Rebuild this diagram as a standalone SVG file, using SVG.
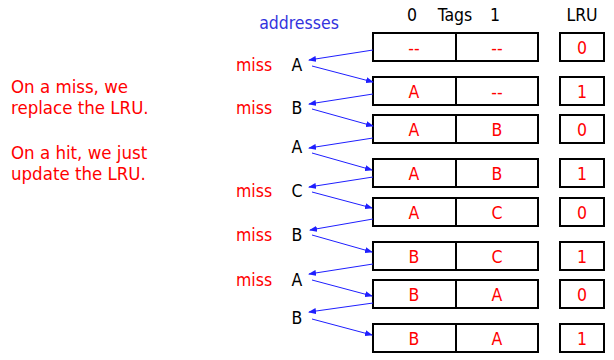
<svg xmlns="http://www.w3.org/2000/svg" width="614" height="360" viewBox="0 0 614 360">
<defs>
<marker id="ah" markerWidth="8" markerHeight="6" refX="7" refY="3" orient="auto" markerUnits="userSpaceOnUse">
<path d="M0,0 L8,3 L0,6 Z" fill="#1f1fff"/>
</marker>
<style>
text{font-family:"DejaVu Sans Condensed","DejaVu Sans",sans-serif;font-size:17.5px}
.r{fill:#ff0000;text-anchor:middle}
.k{fill:#000;text-anchor:middle}
.m{fill:#ff0000}
.note{fill:#ff0000;font-size:18.5px}
.box{fill:#fff;stroke:#000;stroke-width:2}
.c{stroke:#1f1fff;stroke-width:1;fill:none;marker-end:url(#ah)}
</style>
</defs>
<g id="notes">
<text class="note" x="11" y="93">On a miss, we</text>
<text class="note" x="11" y="114">replace the LRU.</text>
<text class="note" x="11" y="159">On a hit, we just</text>
<text class="note" x="11" y="180">update the LRU.</text>
</g>
<g id="headers">
<text x="299" y="29" style="fill:#3333dd;text-anchor:middle">addresses</text>
<text class="k" x="412" y="21">0</text>
<text class="k" x="455" y="21">Tags</text>
<text class="k" x="495" y="21">1</text>
<text class="k" x="582" y="21">LRU</text>
</g>
<g id="addresses">
<text class="m" x="236" y="71">miss</text><text class="k" x="297" y="71">A</text>
<text class="m" x="236" y="114">miss</text><text class="k" x="297" y="114">B</text>
<text class="k" x="297" y="153">A</text>
<text class="m" x="236" y="197">miss</text><text class="k" x="297" y="197">C</text>
<text class="m" x="236" y="241">miss</text><text class="k" x="297" y="241">B</text>
<text class="m" x="236" y="286">miss</text><text class="k" x="297" y="286">A</text>
<text class="k" x="297" y="324">B</text>
</g>
<g id="row1"><rect class="box" x="373" y="33" width="165" height="28"/><line x1="456" y1="33" x2="456" y2="61" stroke="#000" stroke-width="2"/><text class="r" x="414" y="54">--</text><text class="r" x="497" y="54">--</text><rect class="box" x="560" y="33" width="44" height="28"/><text class="r" x="582" y="54">0</text></g>
<g id="row2"><rect class="box" x="373" y="77" width="165" height="28"/><line x1="456" y1="77" x2="456" y2="105" stroke="#000" stroke-width="2"/><text class="r" x="414" y="98">A</text><text class="r" x="497" y="98">--</text><rect class="box" x="560" y="77" width="44" height="28"/><text class="r" x="582" y="98">1</text></g>
<g id="row3"><rect class="box" x="373" y="115" width="165" height="28"/><line x1="456" y1="115" x2="456" y2="143" stroke="#000" stroke-width="2"/><text class="r" x="414" y="136">A</text><text class="r" x="497" y="136">B</text><rect class="box" x="560" y="115" width="44" height="28"/><text class="r" x="582" y="136">0</text></g>
<g id="row4"><rect class="box" x="373" y="159" width="165" height="28"/><line x1="456" y1="159" x2="456" y2="187" stroke="#000" stroke-width="2"/><text class="r" x="414" y="180">A</text><text class="r" x="497" y="180">B</text><rect class="box" x="560" y="159" width="44" height="28"/><text class="r" x="582" y="180">1</text></g>
<g id="row5"><rect class="box" x="373" y="198" width="165" height="28"/><line x1="456" y1="198" x2="456" y2="226" stroke="#000" stroke-width="2"/><text class="r" x="414" y="219">A</text><text class="r" x="497" y="219">C</text><rect class="box" x="560" y="198" width="44" height="28"/><text class="r" x="582" y="219">0</text></g>
<g id="row6"><rect class="box" x="373" y="242" width="165" height="28"/><line x1="456" y1="242" x2="456" y2="270" stroke="#000" stroke-width="2"/><text class="r" x="414" y="263">B</text><text class="r" x="497" y="263">C</text><rect class="box" x="560" y="242" width="44" height="28"/><text class="r" x="582" y="263">1</text></g>
<g id="row7"><rect class="box" x="373" y="280" width="165" height="28"/><line x1="456" y1="280" x2="456" y2="308" stroke="#000" stroke-width="2"/><text class="r" x="414" y="301">B</text><text class="r" x="497" y="301">A</text><rect class="box" x="560" y="280" width="44" height="28"/><text class="r" x="582" y="301">0</text></g>
<g id="row8"><rect class="box" x="373" y="324" width="165" height="28"/><line x1="456" y1="324" x2="456" y2="352" stroke="#000" stroke-width="2"/><text class="r" x="414" y="345">B</text><text class="r" x="497" y="345">A</text><rect class="box" x="560" y="324" width="44" height="28"/><text class="r" x="582" y="345">1</text></g>
<g id="connectors">
<line class="c" x1="373" y1="50" x2="309" y2="60"/>
<line class="c" x1="312" y1="66" x2="373" y2="82"/>
<line class="c" x1="373" y1="94" x2="309" y2="104"/>
<line class="c" x1="312" y1="109" x2="373" y2="126"/>
<line class="c" x1="373" y1="138" x2="309" y2="148"/>
<line class="c" x1="312" y1="153" x2="372" y2="170"/>
<line class="c" x1="373" y1="177" x2="309" y2="187"/>
<line class="c" x1="312" y1="192" x2="372" y2="208"/>
<line class="c" x1="373" y1="219" x2="310" y2="230"/>
<line class="c" x1="312" y1="235" x2="372" y2="252"/>
<line class="c" x1="373" y1="264" x2="309" y2="274"/>
<line class="c" x1="312" y1="280" x2="372" y2="296"/>
<line class="c" x1="373" y1="303" x2="309" y2="312"/>
<line class="c" x1="312" y1="319" x2="372" y2="335"/>
</g>
</svg>
